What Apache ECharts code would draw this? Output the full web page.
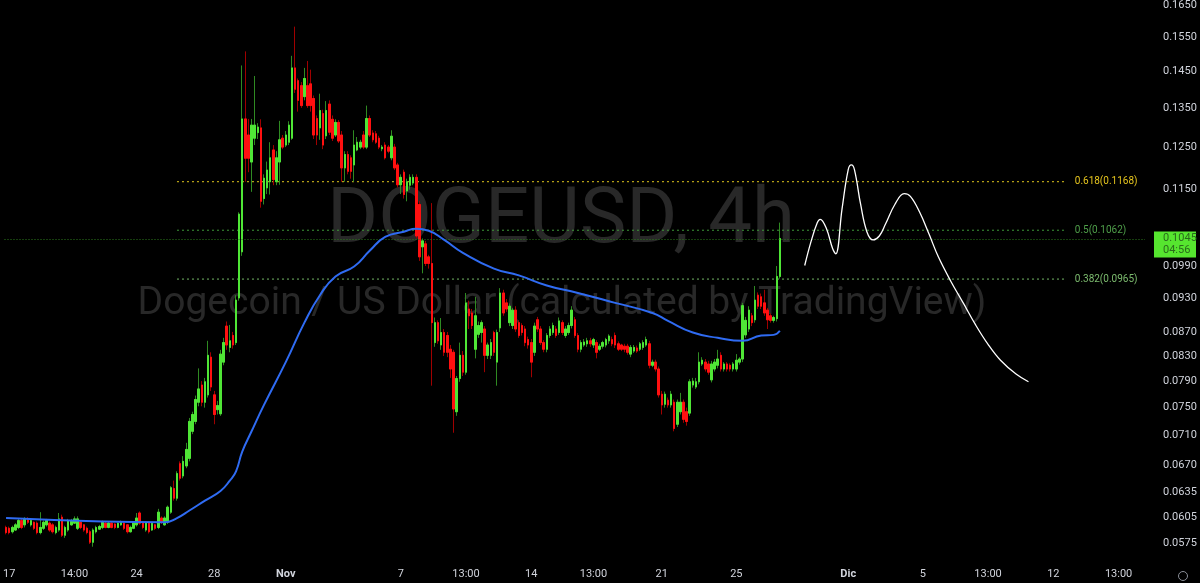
<!DOCTYPE html>
<html>
<head>
<meta charset="utf-8">
<title>DOGEUSD 4h</title>
<script src="https://cdn.jsdelivr.net/npm/echarts@6/dist/echarts.min.js"></script>
<style>
  html, body { margin: 0; padding: 0; background: #000; }
  #chart { width: 1200px; height: 583px; }
</style>
</head>
<body>
<div id="chart"></div>
<script>
// 4h candles, each row is [open, close, low, high]
const candles = [
  [.0593,.0587,.0585,.0595],[.0592,.0587,.0585,.0594],[.0588,.0593,.0586,.0595],[.0590,.0596,.0589,.0598],
  [.0593,.0601,.0591,.0603],[.0601,.0593,.0591,.0603],[.0596,.0603,.0593,.0605],[.0603,.0599,.0597,.0605],
  [.0596,.0601,.0594,.0602],[.0599,.0592,.0590,.0600],[.0598,.0587,.0585,.0600],[.0587,.0593,.0585,.0611],
  [.0592,.0599,.0590,.0601],[.0596,.0601,.0594,.0603],[.0598,.0590,.0588,.0600],[.0596,.0588,.0586,.0598],
  [.0587,.0593,.0585,.0595],[.0590,.0603,.0588,.0610],[.0605,.0584,.0582,.0608],[.0584,.0593,.0581,.0595],
  [.0590,.0601,.0588,.0603],[.0596,.0601,.0595,.0603],[.0598,.0603,.0597,.0606],[.0592,.0603,.0590,.0606],
  [.0599,.0593,.0591,.0601],[.0596,.0590,.0588,.0597],[.0592,.0587,.0585,.0594],[.0588,.0576,.0574,.0590],
  [.0576,.0590,.0571,.0592],[.0588,.0593,.0586,.0595],[.0591,.0594,.0590,.0596],[.0593,.0599,.0591,.0601],
  [.0598,.0593,.0592,.0600],[.0593,.0598,.0592,.0600],[.0598,.0593,.0592,.0599],[.0597,.0593,.0591,.0598],
  [.0593,.0598,.0592,.0599],[.0596,.0599,.0595,.0601],[.0598,.0592,.0590,.0599],[.0596,.0588,.0586,.0597],
  [.0588,.0593,.0587,.0595],[.0592,.0599,.0591,.0600],[.0596,.0604,.0594,.0610],[.0610,.0598,.0596,.0612],
  [.0599,.0593,.0591,.0600],[.0590,.0599,.0588,.0600],[.0599,.0588,.0586,.0600],[.0590,.0598,.0589,.0599],
  [.0596,.0592,.0590,.0597],[.0593,.0611,.0591,.0615],[.0604,.0599,.0597,.0606],[.0596,.0604,.0595,.0606],
  [.0599,.0617,.0597,.0619],[.0611,.0641,.0609,.0643],[.0640,.0628,.0625,.0650],[.0628,.0659,.0625,.0662],
  [.0672,.0653,.0650,.0675],[.0656,.0675,.0653,.0682],[.0669,.0691,.0666,.0700],[.0679,.0730,.0675,.0735],
  [.0716,.0740,.0712,.0744],[.0730,.0762,.0726,.0768],[.0758,.0778,.0752,.0810],[.0784,.0758,.0752,.0790],
  [.0758,.0789,.0750,.0795],[.0769,.0831,.0765,.0855],[.0828,.0781,.0775,.0836],[.0769,.0740,.0726,.0775],
  [.0747,.0753,.0740,.0760],[.0741,.0833,.0738,.0840],[.0820,.0852,.0815,.0860],[.0880,.0848,.0840,.0888],
  [.0844,.0855,.0836,.0882],[.0864,.0848,.0842,.0870],[.0852,.0926,.0848,.0935],[.0930,.1096,.0925,.1100],
  [.1018,.1321,.1010,.1467],[.1321,.1223,.1168,.1508],[.1280,.1223,.1190,.1321],[.1214,.1305,.1145,.1321],
  [.1272,.1305,.1255,.1437],[.1286,.1300,.1270,.1310],[.1298,.1124,.1110,.1320],[.1130,.1176,.1117,.1185],
  [.1154,.1195,.1140,.1215],[.1168,.1224,.1139,.1262],[.1243,.1173,.1160,.1255],[.1168,.1224,.1160,.1240],
  [.1214,.1268,.1161,.1316],[.1272,.1250,.1245,.1280],[.1255,.1280,.1250,.1290],[.1262,.1305,.1255,.1315],
  [.1272,.1460,.1268,.1495],[.1460,.1400,.1390,.1583],[.1424,.1370,.1340,.1430],[.1410,.1356,.1350,.1420],
  [.1380,.1430,.1370,.1460],[.1410,.1356,.1350,.1480],[.1415,.1356,.1340,.1455],[.1375,.1280,.1270,.1383],
  [.1322,.1280,.1255,.1330],[.1298,.1343,.1268,.1388],[.1335,.1255,.1245,.1345],[.1278,.1343,.1270,.1368],
  [.1360,.1287,.1280,.1370],[.1320,.1272,.1265,.1330],[.1280,.1312,.1275,.1320],[.1312,.1265,.1260,.1318],
  [.1280,.1200,.1168,.1290],[.1200,.1232,.1168,.1240],[.1232,.1192,.1185,.1240],[.1224,.1192,.1175,.1230],
  [.1207,.1255,.1168,.1292],[.1243,.1262,.1240,.1275],[.1250,.1262,.1245,.1268],[.1280,.1250,.1245,.1290],
  [.1250,.1322,.1245,.1356],[.1322,.1280,.1275,.1330],[.1285,.1268,.1262,.1292],[.1283,.1262,.1258,.1290],
  [.1272,.1250,.1245,.1278],[.1246,.1250,.1240,.1255],[.1255,.1224,.1220,.1262],[.1250,.1240,.1235,.1255],
  [.1224,.1277,.1218,.1292],[.1250,.1200,.1195,.1258],[.1207,.1161,.1155,.1212],[.1161,.1178,.1140,.1185],
  [.1190,.1139,.1130,.1196],[.1147,.1168,.1124,.1175],[.1160,.1178,.1150,.1185],[.1165,.1178,.1160,.1185],
  [.1178,.1050,.1045,.1185],[.1117,.1008,.1000,.1125],[.1028,.1040,.0976,.1045],[.1034,.0995,.0990,.1040],
  [.1008,.0995,.0985,.1012],[.0995,.0886,.0783,.1120],[.0852,.0886,.0845,.0895],[.0886,.0855,.0850,.0890],
  [.0848,.0869,.0840,.0894],[.0869,.0836,.0830,.0875],[.0864,.0836,.0828,.0870],[.0841,.0809,.0795,.0848],
  [.0836,.0748,.0714,.0840],[.0744,.0794,.0738,.0798],[.0794,.0831,.0789,.0852],[.0831,.0804,.0798,.0838],
  [.0804,.0921,.0800,.0939],[.0910,.0898,.0875,.0925],[.0903,.0881,.0875,.0910],[.0841,.0898,.0826,.0932],
  [.0866,.0881,.0860,.0888],[.0869,.0886,.0852,.0890],[.0875,.0831,.0804,.0880],[.0831,.0848,.0825,.0852],
  [.0831,.0852,.0825,.0858],[.0869,.0836,.0830,.0872],[.0820,.0869,.0783,.0874],[.0877,.0939,.0870,.0948],
  [.0939,.0903,.0898,.0945],[.0921,.0910,.0905,.0928],[.0886,.0915,.0880,.0920],[.0881,.0908,.0875,.0912],
  [.0908,.0875,.0870,.0915],[.0886,.0864,.0860,.0890],[.0881,.0869,.0864,.0885],[.0875,.0852,.0846,.0880],
  [.0857,.0848,.0842,.0862],[.0852,.0820,.0796,.0858],[.0836,.0880,.0830,.0886],[.0891,.0875,.0870,.0896],
  [.0875,.0852,.0848,.0880],[.0852,.0841,.0836,.0856],[.0841,.0864,.0836,.0868],[.0864,.0875,.0860,.0880],
  [.0869,.0881,.0865,.0886],[.0875,.0864,.0860,.0880],[.0869,.0889,.0865,.0895],[.0886,.0869,.0865,.0890],
  [.0864,.0875,.0860,.0880],[.0869,.0881,.0865,.0886],[.0881,.0908,.0876,.0915],[.0891,.0864,.0860,.0896],
  [.0864,.0841,.0836,.0868],[.0841,.0852,.0836,.0856],[.0848,.0853,.0845,.0858],[.0850,.0855,.0845,.0860],
  [.0855,.0850,.0845,.0860],[.0848,.0857,.0843,.0860],[.0852,.0836,.0826,.0856],[.0841,.0846,.0838,.0850],
  [.0846,.0852,.0842,.0855],[.0848,.0857,.0844,.0860],[.0855,.0863,.0850,.0866],[.0857,.0850,.0846,.0862],
  [.0864,.0848,.0843,.0869],[.0850,.0841,.0838,.0854],[.0848,.0841,.0838,.0850],[.0846,.0841,.0836,.0850],
  [.0846,.0836,.0832,.0850],[.0833,.0844,.0828,.0848],[.0838,.0844,.0835,.0848],[.0843,.0838,.0835,.0847],
  [.0841,.0850,.0838,.0853],[.0844,.0852,.0840,.0856],[.0848,.0857,.0845,.0862],[.0850,.0815,.0810,.0855],
  [.0815,.0820,.0812,.0824],[.0820,.0809,.0805,.0824],[.0809,.0769,.0765,.0813],[.0770,.0754,.0740,.0775],
  [.0755,.0770,.0750,.0774],[.0761,.0754,.0750,.0765],[.0754,.0770,.0750,.0775],[.0758,.0720,.0716,.0762],
  [.0726,.0758,.0722,.0762],[.0744,.0758,.0740,.0772],[.0758,.0733,.0728,.0762],[.0744,.0730,.0724,.0750],
  [.0742,.0789,.0738,.0793],[.0784,.0790,.0780,.0795],[.0781,.0789,.0778,.0795],[.0789,.0820,.0785,.0836],
  [.0817,.0823,.0814,.0828],[.0820,.0809,.0805,.0825],[.0817,.0804,.0800,.0822],[.0792,.0817,.0788,.0822],
  [.0809,.0820,.0805,.0825],[.0815,.0825,.0810,.0840],[.0831,.0809,.0805,.0836],[.0809,.0817,.0805,.0820],
  [.0817,.0809,.0805,.0820],[.0815,.0809,.0805,.0818],[.0809,.0817,.0805,.0820],[.0809,.0823,.0805,.0833],
  [.0820,.0825,.0816,.0828],[.0825,.0916,.0820,.0921],[.0865,.0890,.0860,.0896],[.0875,.0908,.0870,.0915],
  [.0898,.0886,.0880,.0903],[.0891,.0926,.0886,.0952],[.0935,.0915,.0910,.0940],[.0932,.0915,.0910,.0938],
  [.0921,.0903,.0898,.0945],[.0908,.0891,.0875,.0912],[.0898,.0890,.0886,.0902],[.0890,.0895,.0886,.0898],
  [.0893,.0970,.0888,.0990],[.0970,.1045,.0966,.1078]
];

// moving average, [bar index, value]
const maPoints = [
  [0,.0604],[31,.0600],[51,.0599],[55,.0604],[59,.0613],[64,.0625],[69,.0637],[72,.0650],[74,.0662],
  [76,.0688],[79,.0716],[83,.0754],[90,.0820],[96,.0886],[101,.0935],[106,.0970],[112,.0989],[117,.1020],
  [122,.1048],[128,.1059],[132,.1065],[136,.1061],[141,.1042],[147,.1016],[157,.0985],[165,.0972],
  [174,.0953],[184,.0939],[196,.0921],[208,.0903],[213,.0889],[221,.0869],[229,.0860],[237,.0855],
  [243,.0864],[247,.0865],[249,.0872]
];

// hand drawn forecast path, [bar index, price]
const projection = [
  [257,.0991],[259,.1038],[261,.1077],[262,.1085],[264,.1065],[266,.1024],[267,.1014],[269,.1107],
  [271,.1196],[272,.1207],[273,.1196],[275,.1117],[277,.1059],[279,.1042],[281,.1050],[283,.1075],
  [286,.1117],[289,.1141],[291,.1135],[294,.1100],[297,.1054],[300,.1008],[304,.0961],[308,.0921],
  [312,.0882],[316,.0849],[320,.0823],[325,.0801],[329,.0789]
];

const fibLevels = [0.1168, 0.1062, 0.0965];
const fibLabels = ['0.618(0.1168)', '0.5(0.1062)', '0.382(0.0965)'];
const fibFrom = 55, fibTo = 341;

const xTicks = [[1,'17'],[22,'14:00'],[42,'24'],[67,'28'],[90,'Nov'],[127,'7'],[148,'13:00'],[169,'14'],
  [189,'13:00'],[211,'21'],[235,'25'],[271,'Dic'],[295,'5'],[316,'13:00'],[337,'12'],[358,'13:00']];
const monthTicks = ['Nov', 'Dic'];
const yTicks = [0.1650, 0.1550, 0.1450, 0.1350, 0.1250, 0.1150, 0.0990, 0.0930, 0.0870, 0.0830,
  0.0790, 0.0750, 0.0710, 0.0670, 0.0635, 0.0605, 0.0575];
const lastPrice = 0.1045;
const countdown = '04:56';
const barCount = 367;
const priceMin = 0.05585, priceMax = 0.16523;

// price scale is logarithmic, so everything goes on the axis as ln(price)
const ln = Math.log;
const categories = Array.from({ length: barCount }, (_, i) => String(i));
const tickMap = {};
xTicks.forEach(([i, t]) => { tickMap[i] = t; });

const fibColors = ['#e3c81c', '#3f9c3a', '#74b866'];
const fibTextColors = ['#e6c51e', '#4f9f4a', '#7cbb6e'];

const chart = echarts.init(document.getElementById('chart'));

const fibSeries = fibLevels.map((lv, k) => ({
  type: 'line',
  data: [[fibFrom, ln(lv)], [fibTo, ln(lv)]],
  showSymbol: false,
  silent: true,
  z: 1,
  lineStyle: { color: fibColors[k], width: 1, type: [2, 3] },
  endLabel: {
    show: true,
    formatter: fibLabels[k],
    color: fibTextColors[k],
    fontSize: 10,
    fontFamily: 'Roboto',
    distance: 9
  }
}));

chart.setOption({
  backgroundColor: '#000',
  animation: false,
  grid: { left: 0, right: 55, top: -2, bottom: 25 },
  xAxis: {
    type: 'category',
    data: categories,
    axisLine: { show: false },
    axisTick: { show: false },
    splitLine: { show: false },
    axisLabel: {
      interval: (idx) => tickMap[idx] !== undefined,
      formatter: (val, idx) => {
        const t = tickMap[idx];
        if (t === undefined) return '';
        return monthTicks.includes(t) ? '{b|' + t + '}' : t;
      },
      color: '#d1d4dc',
      fontSize: 11,
      fontFamily: 'Roboto',
      margin: 11,
      rich: { b: { fontWeight: 'bold', fontSize: 11, fontFamily: 'Roboto', color: '#d1d4dc' } }
    }
  },
  yAxis: {
    type: 'value',
    position: 'right',
    min: ln(priceMin),
    max: ln(priceMax),
    axisLine: { show: false },
    axisTick: { show: false },
    splitLine: { show: false },
    axisLabel: {
      customValues: yTicks.map(ln),
      formatter: (v) => Math.exp(v).toFixed(4),
      color: '#d1d4dc',
      fontSize: 11,
      fontFamily: 'Roboto',
      margin: 18
    }
  },
  series: [
    {
      // wicks, darker tone
      type: 'candlestick',
      data: candles.map(c => c.map(ln)),
      barWidth: 2,
      z: 3,
      itemStyle: {
        color: '#2f8a22', color0: '#a00000',
        borderColor: '#2f8a22', borderColor0: '#a00000', borderWidth: 1
      },
      markLine: {
        silent: true,
        symbol: 'none',
        label: { show: false },
        lineStyle: { color: '#2c7d1c', type: [1, 2], width: 1 },
        data: [{ yAxis: ln(lastPrice) }]
      }
    },
    {
      // bodies
      type: 'candlestick',
      data: candles.map(([o, c]) => [o, c, Math.min(o, c), Math.max(o, c)].map(ln)),
      barWidth: 2,
      z: 4,
      itemStyle: {
        color: '#4fe636', color0: '#ff1010',
        borderColor: '#4fe636', borderColor0: '#ff1010', borderWidth: 1
      }
    },
    {
      type: 'line',
      data: maPoints.map(([i, v]) => [i, ln(v)]),
      smooth: true,
      showSymbol: false,
      silent: true,
      z: 5,
      lineStyle: { color: '#2f6bf2', width: 2 }
    },
    {
      type: 'line',
      data: projection.map(([i, v]) => [i, ln(v)]),
      smooth: 0.4,
      showSymbol: false,
      silent: true,
      z: 5,
      lineStyle: { color: '#ffffff', width: 1.3 }
    },
    ...fibSeries
  ]
});

// watermark, gear and last price tag (tag placed on the price scale)
const tagY = chart.convertToPixel({ yAxisIndex: 0 }, ln(lastPrice));
chart.setOption({
  graphic: [
    {
      type: 'text', x: 561, y: 222, z: 0, silent: true,
      style: { text: 'DOGEUSD, 4h', font: '78px Roboto', fill: '#282828', align: 'center', verticalAlign: 'middle' }
    },
    {
      type: 'text', x: 562, y: 304, z: 0, silent: true,
      style: { text: 'Dogecoin / US Dollar (calculated by TradingView)', font: '39px Roboto', fill: '#282828', align: 'center', verticalAlign: 'middle' }
    },
    {
      type: 'circle', shape: { cx: 1183, cy: 576, r: 4.5 }, z: 5, silent: true,
      style: { fill: 'none', stroke: '#8a8e97', lineWidth: 1 }
    },
    {
      type: 'rect', shape: { x: 1154, y: tagY - 7, width: 42, height: 26 }, z: 100, silent: true,
      style: { fill: '#56e52f' }
    },
    {
      type: 'text', x: 1163, y: tagY + 6, z: 101, silent: true,
      style: { text: lastPrice.toFixed(4) + '\n' + countdown, font: '11px Roboto', fill: '#2a6a1c', lineHeight: 12, verticalAlign: 'middle' }
    }
  ]
});
</script>
</body>
</html>
